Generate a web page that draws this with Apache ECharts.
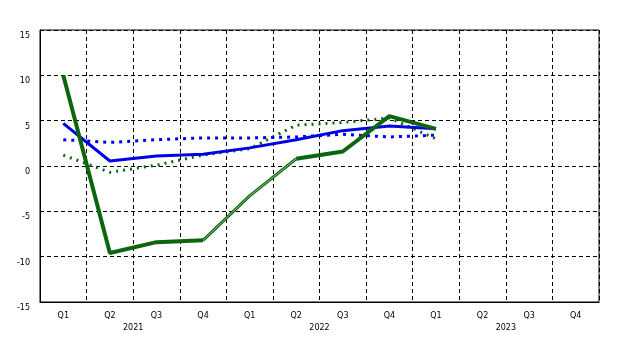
<!DOCTYPE html>
<html><head><meta charset="utf-8">
<script src="https://cdn.jsdelivr.net/npm/echarts@6/dist/echarts.min.js"></script>
<style>html,body{margin:0;padding:0;background:#fff}#c{width:640px;height:360px}</style>
</head><body><div id="c"></div>
<script>
const quarters = ['Q1','Q2','Q3','Q4','Q1','Q2','Q3','Q4','Q1','Q2','Q3','Q4'];
const years = ['2021','2022','2023'];
const greenSolid = [10.0, -9.6, -8.4, -8.2, null, 0.8, 1.6, 5.5, 4.1, null, null, null];
const greenThin  = [null, null, null, -8.2, -3.3, 0.8, null, null, null, null, null, null];
const greenDotted = [1.2, -0.7, 0.1, 1.2, 1.9, 4.5, 4.8, 5.3, 3.0, null, null, null];
const blueSolid = [4.7, 0.55, 1.1, 1.3, 2.0, 2.9, 3.9, 4.4, 4.1, null, null, null];
const blueDotted = [2.9, 2.6, 2.9, 3.1, 3.1, 3.2, 3.5, 3.2, 3.4, null, null, null];
const yTicks = [-15, 15, 5];

const GREEN = '#0d650d', BLUE = '#0000e6';
const font = {fontFamily: 'DejaVu Sans', fontSize: 8, color: '#000'};
const chart = echarts.init(document.getElementById('c'), null, {renderer: 'canvas'});
chart.setOption({
  animation: false,
  grid: {left: 40, right: 41, top: 30, bottom: 58, show: true, borderColor: '#000', borderWidth: 1, backgroundColor: 'transparent'},
  xAxis: [
    {type: 'category', data: quarters, boundaryGap: true,
     axisLine: {onZero: false, lineStyle: {color: '#000', width: 1}}, axisTick: {show: false},
     axisLabel: Object.assign({margin: 10, interval: 0}, font),
     splitLine: {show: true, interval: 0, lineStyle: {color: '#000', type: [4, 3], width: 1}}},
    {type: 'category', data: years, position: 'bottom', offset: 12, gridIndex: 0,
     axisLine: {show: false, onZero: false}, axisTick: {show: false},
     axisLabel: Object.assign({margin: 10, interval: 0}, font), splitLine: {show: false}}
  ],
  yAxis: {type: 'value', min: yTicks[0], max: yTicks[1], interval: yTicks[2],
    axisLine: {show: true, onZero: false, lineStyle: {color: '#000'}}, axisTick: {show: false},
    axisLabel: Object.assign({margin: 10, verticalAlign: 'top', padding: [2, 0, 0, 0]}, font),
    splitLine: {show: true, lineStyle: {color: '#000', type: [4, 3], width: 1}}},
  series: [
    {type: 'line', data: greenDotted, symbol: 'none', z: 2,
     lineStyle: {color: GREEN, width: 3, type: [2, 5]}},
    {type: 'line', data: blueDotted, symbol: 'none', z: 3,
     lineStyle: {color: BLUE, width: 3, type: [3, 5]}},
    {type: 'line', data: blueSolid, symbol: 'none', z: 4,
     lineStyle: {color: BLUE, width: 3}},
    {type: 'line', data: greenThin, symbol: 'none', z: 5,
     lineStyle: {color: GREEN, width: 3}},
    {type: 'line', data: greenThin, symbol: 'none', z: 6,
     lineStyle: {color: '#8fc28f', width: 1}},
    {type: 'line', data: greenSolid, symbol: 'none', z: 7,
     lineStyle: {color: GREEN, width: 4}}
  ]
});
</script></body></html>
